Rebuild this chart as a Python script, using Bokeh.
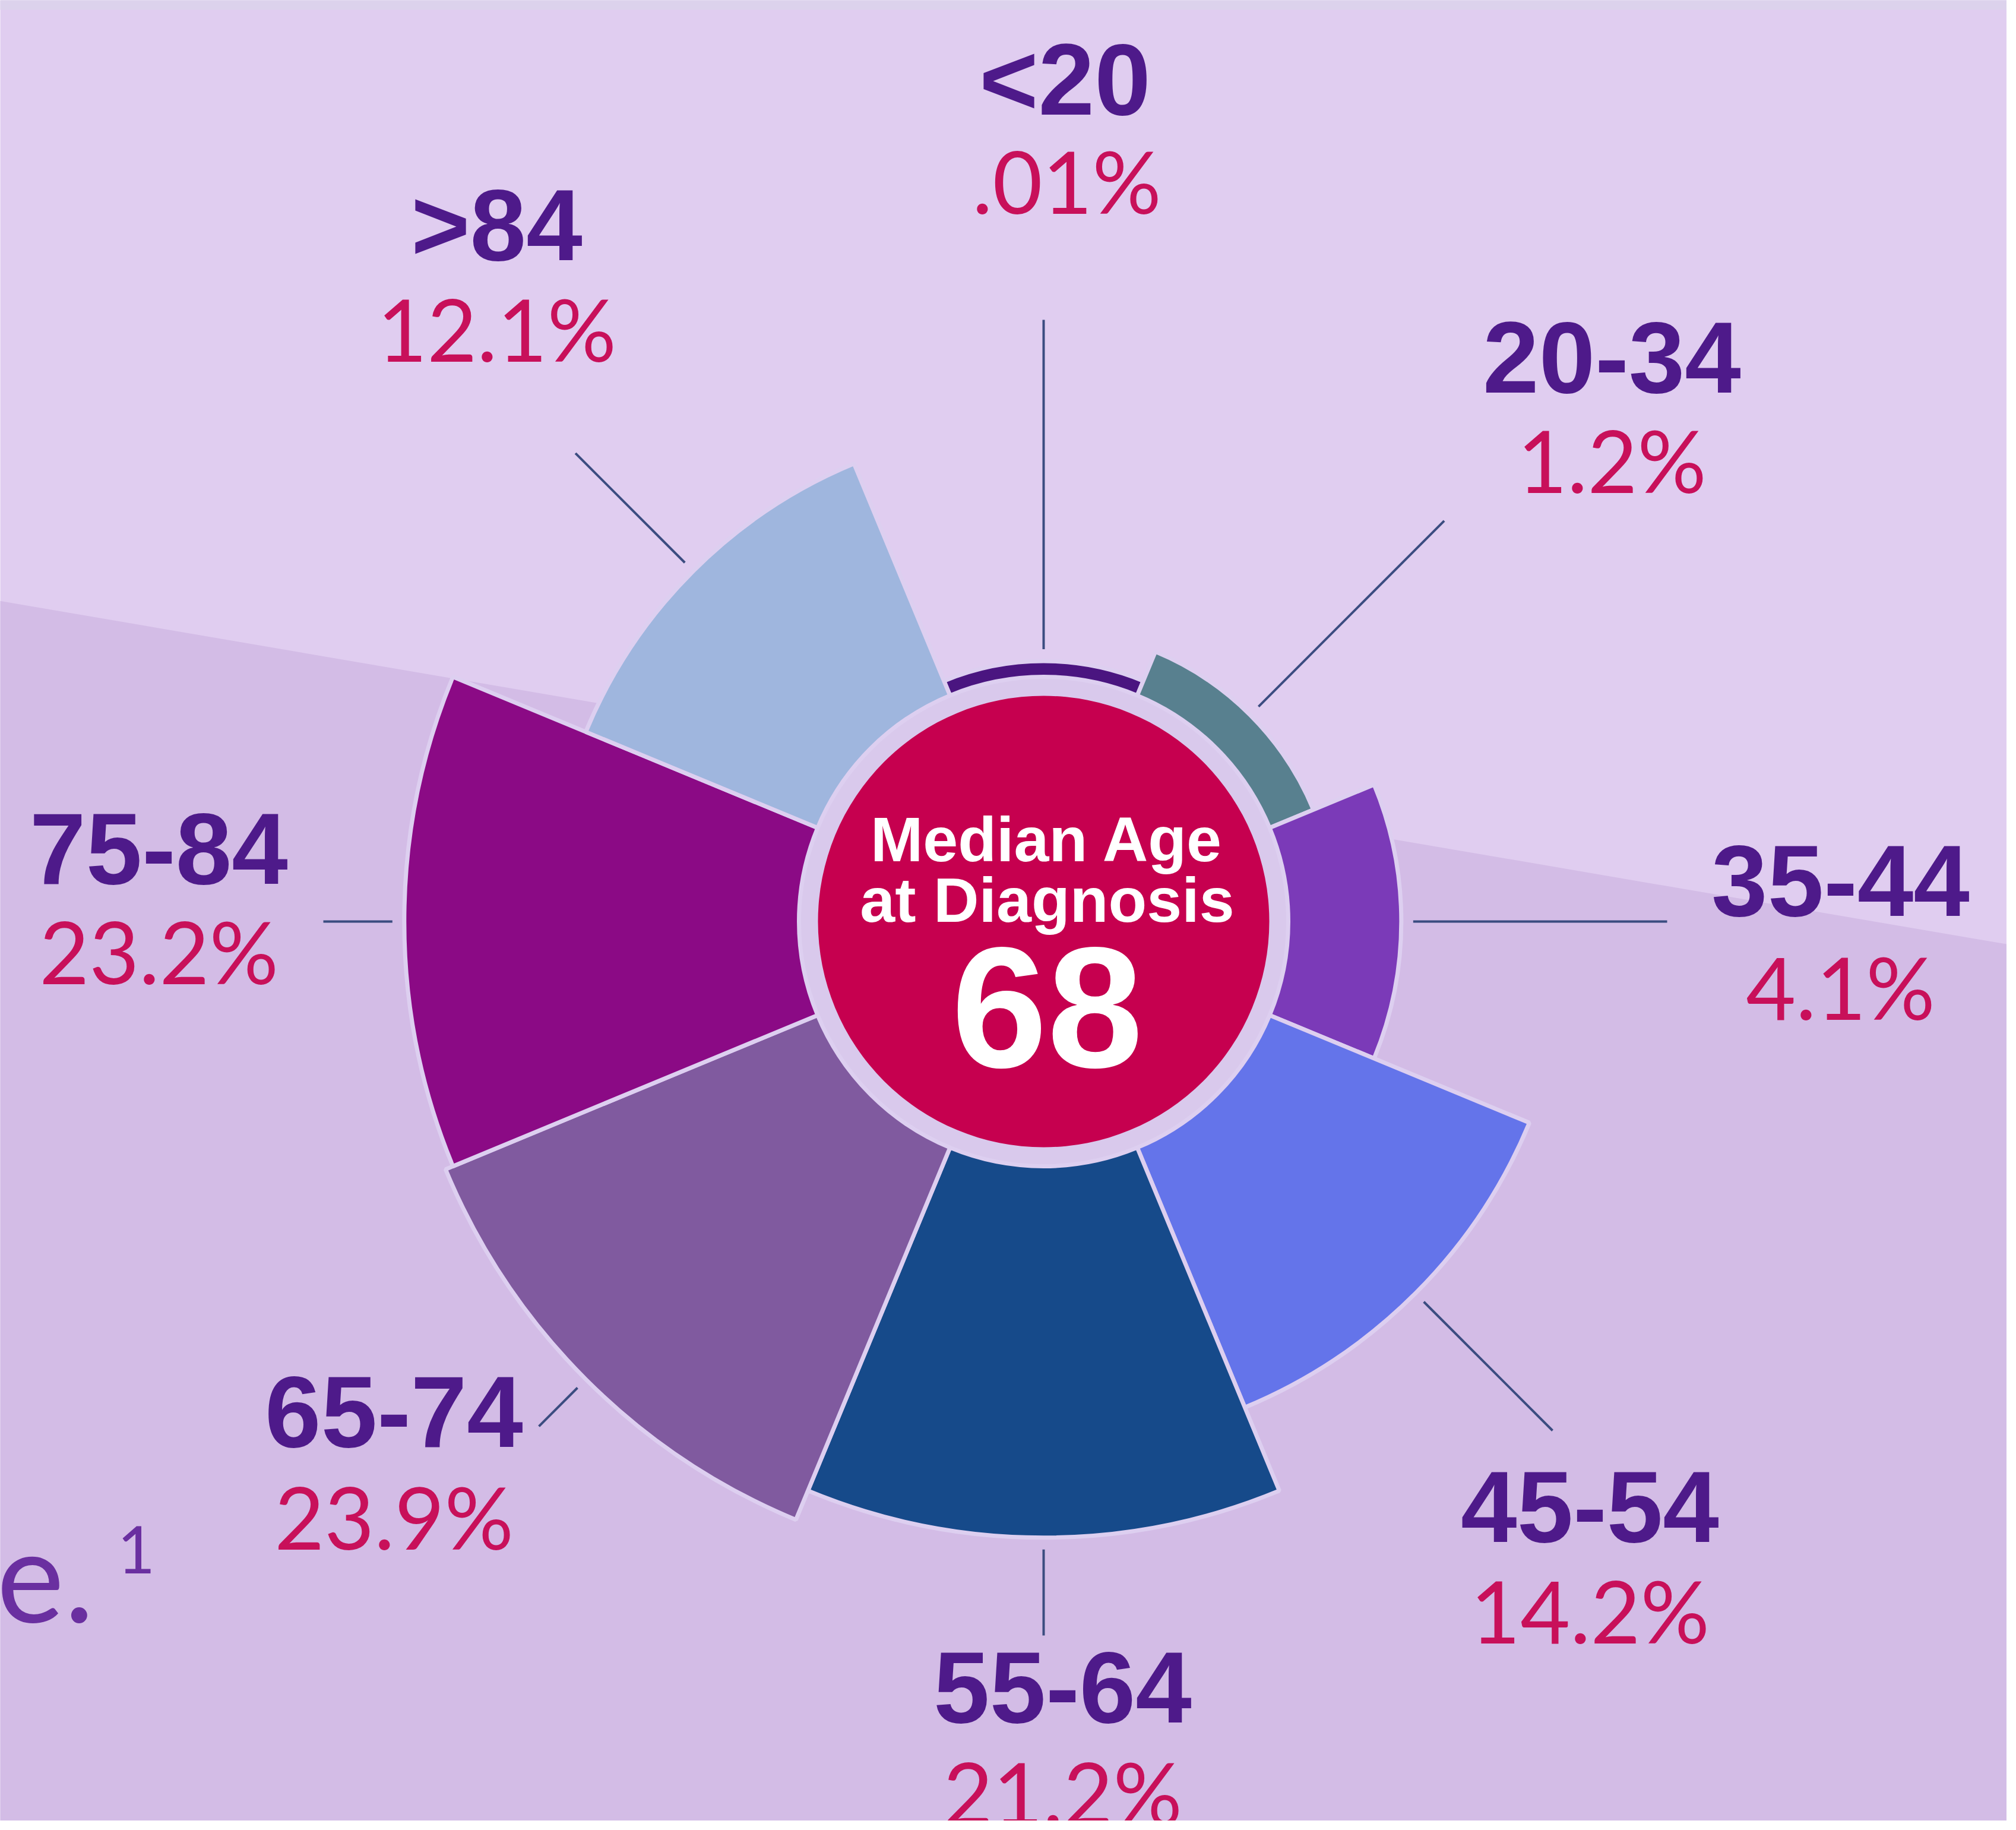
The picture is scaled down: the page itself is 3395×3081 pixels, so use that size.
import math
from bokeh.plotting import figure
from bokeh.models import Range1d, ColumnDataSource
from bokeh.core.properties import value
from bokeh.embed import file_html
from bokeh.resources import INLINE

# ---------------- data ----------------
age_groups = ["<20", "20-34", "35-44", "45-54", "55-64", "65-74", "75-84", ">84"]
pct_values = [0.01, 1.2, 4.1, 14.2, 21.2, 23.9, 23.2, 12.1]
pct_labels = [".01%", "1.2%", "4.1%", "14.2%", "21.2%", "23.9%", "23.2%", "12.1%"]
median_title = ["Median Age", "at Diagnosis"]
median_age = "68"

# ---------------- styles / layout ----------------
wedge_colors = ["#4a1580", "#58808f", "#7b3ab8", "#6474ea", "#164a8a", "#805a9f", "#8b0a85", "#9fb6de"]
TOP_BG = "#e0cdf0"
BOTTOM_BG = "#d3bce6"
RING = "#d9c9ec"
CENTER = "#c6004f"
SEP = "#ddcff0"
AGE_COLOR = "#4e1a8a"
PCT_COLOR = "#c8105a"
LEADER = "#3b4c80"

CX, CY = 1765, 1559          # centre in reference pixels
R_CENTER = 380
R_INNER = 412
R_BASE = 438                 # radius of a zero value (area-proportional scale)
K_AREA = 41700

age_label_pos = [(1801, 141), (2722, 609), (3107, 1490), (2685, 2544),
                 (1797, 2848), (671, 2384), (275, 1436), (844, 386)]
pct_label_pos = [(1804, 311), (2722, 781), (3107, 1668), (2685, 2718),
                 (1797, 3024), (671, 2560), (275, 1608), (844, 560)]
leader_end_r = [1013, 954, 1050, 1212, 1202, 1202, 1213, 1115]

W, H = 3379, 3065
p = figure(width=W, height=H, output_backend="svg", toolbar_location=None,
           x_range=Range1d(8, 8 + W), y_range=Range1d(-(8 + H), -8),
           min_border=0)
p.axis.visible = False
p.grid.visible = False
p.outline_line_color = None
p.background_fill_color = TOP_BG
p.border_fill_color = TOP_BG

# background: lower darker band with slanted edge
p.patch([-100, 3500, 3500, -100], [-(1018 - 0.171 * 100), -(1018 + 0.171 * 3500), -3300, -3300],
        fill_color=BOTTOM_BG, line_color=None)
# top edge strip
p.quad(left=-100, right=3500, top=0, bottom=-3, fill_color="#c9a9e6", line_color=None)
p.quad(left=-100, right=3500, top=-3, bottom=-24, fill_color="#dcd2ec", line_color=None)

# ---------------- wedges ----------------
n = len(age_groups)
outer = [math.sqrt(R_BASE ** 2 + K_AREA * v) for v in pct_values]
mid_deg = [90 - 45 * i for i in range(n)]
src = ColumnDataSource(dict(
    x=[CX] * n, y=[-CY] * n,
    inner=[R_INNER] * n, outer=outer,
    start=[m - 22.5 for m in mid_deg], end=[m + 22.5 for m in mid_deg],
    color=wedge_colors))

p.circle(x=[CX], y=[-CY], radius=R_INNER, fill_color=RING, line_color=None)
p.annular_wedge(x="x", y="y", inner_radius="inner", outer_radius="outer",
                start_angle="start", end_angle="end", start_angle_units="deg",
                end_angle_units="deg", fill_color="color", line_color=SEP,
                line_width=7, source=src)
p.circle(x=[CX], y=[-CY], radius=R_CENTER, fill_color=CENTER, line_color=None)

# leader lines
x0, y0, x1, y1 = [], [], [], []
for i in range(n):
    a = math.radians(mid_deg[i])
    r0 = outer[i] + 20
    r1 = leader_end_r[i]
    x0.append(CX + r0 * math.cos(a)); y0.append(-CY + r0 * math.sin(a))
    x1.append(CX + r1 * math.cos(a)); y1.append(-CY + r1 * math.sin(a))
p.segment(x0=x0, y0=y0, x1=x1, y1=y1, line_color=LEADER, line_width=4)

# labels
p.text(x=[q[0] for q in age_label_pos], y=[-q[1] for q in age_label_pos], text=age_groups,
       text_font=value("Liberation Sans"), text_font_style="bold", text_font_size="170px",
       text_color=AGE_COLOR, text_align="center", text_baseline="alphabetic")
p.text(x=[q[0] for q in pct_label_pos], y=[-q[1] for q in pct_label_pos], text=pct_labels,
       text_font=value("Lato"), text_font_size="145px",
       text_color=PCT_COLOR, text_align="center", text_baseline="alphabetic")

# centre text
p.text(x=[CX + 6, CX + 6], y=[-1420, -1522], text=median_title,
       text_font=value("Liberation Sans"), text_font_style="bold", text_font_size="106px",
       text_color="white", text_align="center", text_baseline="alphabetic")
p.text(x=[CX + 6], y=[-1702], text=[median_age],
       text_font=value("Liberation Sans"), text_font_style="bold", text_font_size="290px",
       text_color="white", text_align="center", text_baseline="alphabetic")

# clipped sentence end at left
p.text(x=[2], y=[-2661], text=["e."], text_font=value("Lato"), text_font_size="215px",
       text_color="#6a2fa0", text_align="left", text_baseline="alphabetic")
p.text(x=[205], y=[-2616], text=["1"], text_font=value("Lato"), text_font_size="110px",
       text_color="#6a2fa0", text_align="left", text_baseline="alphabetic")

open("out.html", "w").write(file_html(p, INLINE))
